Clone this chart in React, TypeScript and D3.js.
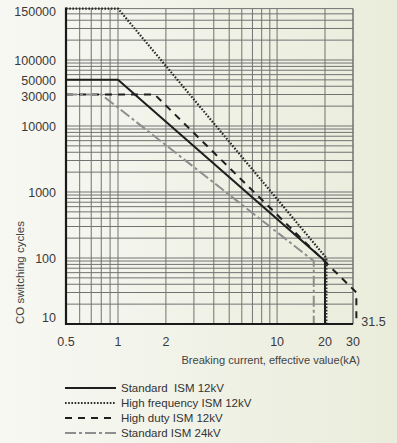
import React from "react";
import * as d3 from "d3";

// breaking current (kA) / CO cycles
const std12Current = [0.5, 1, 20, 20];
const std12Cycles = [50000, 50000, 90, 10];
const hf12Current = [0.5, 1, 20.4, 20.4];
const hf12Cycles = [150000, 150000, 100, 10];
const hd12Current = [0.5, 1.7, 31.5, 31.5];
const hd12Cycles = [30000, 30000, 30, 10];
const std24Current = [0.5, 0.8, 17, 17];
const std24Cycles = [30000, 30000, 90, 10];

const seriesNames = ["Standard  ISM 12kV", "High frequency ISM 12kV", "High duty ISM 12kV", "Standard ISM 24kV"];
const xTickValues = [0.5, 1, 2, 10, 20, 30];
const yTickValues = [10, 100, 1000, 10000, 30000, 50000, 100000, 150000];

const W = 397, H = 443;
const left = 66, right = 353, top = 8.6, bottom = 324;

// the axis is broken above 100000: 150000 sits at the top edge
const x = d3.scaleLog().domain([0.5, 1, 30]).range([left, 118, right]);
const y = d3.scaleLog().domain([10, 100000, 150000]).range([bottom, 60, top]);
const yTopGrid = d3.scaleLog().domain([1e5, 6e5]).range([y(1e5), y(1.5e5)]);

const vGrid: number[] = [0.6, 0.7, 0.8, 0.9];
for (const d of [1, 10]) for (let k = 1; k <= 9; k++) if (d * k <= 30) vGrid.push(d * k);
vGrid.push(30);

const hGrid: number[] = [];
for (const d of [10, 100, 1000, 10000]) for (let k = 1; k <= 9; k++) hGrid.push(y(d * k));
hGrid.push(y(100000));
for (const v of [2e5, 3e5, 4e5, 5e5, 6e5]) hGrid.push(yTopGrid(v));

const styles = [
  { stroke: "#1e1e1e", dash: "none", width: 2 },
  { stroke: "#2a2a2a", dash: "1.6,1.6", width: 2.2 },
  { stroke: "#1e1e1e", dash: "7,6", width: 2 },
  { stroke: "#8e8e8e", dash: "11,3,3,3", width: 2 },
];

const line = d3.line<[number, number]>().x(d => x(d[0])).y(d => y(d[1]));
const toPts = (xs: number[], ys: number[]) => xs.map((v, i) => [v, ys[i]] as [number, number]);
const series = [
  toPts(std12Current, std12Cycles),
  toPts(hf12Current, hf12Cycles),
  toPts(hd12Current, hd12Cycles),
  toPts(std24Current, std24Cycles),
];

const font = "'Liberation Sans', Arial, sans-serif";

export default function App() {
  const yOffset = (v: number) => (v === 150000 ? 3.5 : v === 10 ? -6 : v === 30000 ? 2 : 1);
  return (
    <svg width={W} height={H} style={{ position: "absolute", left: 0, top: 0 }} fontFamily={font}>
      <defs>
        <linearGradient id="bg" x1="0" x2="1" y1="0" y2="0">
          <stop offset="0" stopColor="#f7f8f3" />
          <stop offset="1" stopColor="#eaecdb" />
        </linearGradient>
      </defs>
      <rect width={W} height={H} fill="url(#bg)" />

      <g stroke="#727272" strokeWidth={1}>
        {vGrid.map((v, i) => (
          <line key={"v" + i} x1={x(v)} x2={x(v)} y1={top} y2={bottom} />
        ))}
        {hGrid.map((yy, i) => (
          <line key={"h" + i} x1={left} x2={right} y1={yy} y2={yy} />
        ))}
      </g>

      {series.map((pts, i) => (
        <path key={i} d={line(pts) || ""} fill="none" stroke={styles[i].stroke}
          strokeWidth={styles[i].width} strokeDasharray={styles[i].dash} />
      ))}

      <line x1={left} x2={left} y1={top - 1} y2={bottom + 1} stroke="#1a1a1a" strokeWidth={2.2} />
      <line x1={left - 1} x2={right} y1={bottom} y2={bottom} stroke="#1a1a1a" strokeWidth={2.2} />

      <g fontSize={12.5} fill="#3a3a3a" textAnchor="end">
        {yTickValues.map(v => (
          <text key={v} x={56} y={y(v) + yOffset(v)} dominantBaseline="central">{String(v)}</text>
        ))}
      </g>
      <g fontSize={12.5} fill="#3a3a3a" textAnchor="middle">
        {xTickValues.map(v => (
          <text key={v} x={v === 0.5 ? left : x(v)} y={346}>{String(v)}</text>
        ))}
      </g>
      <text x={x(31.5) + 5} y={326} fontSize={12.5} fill="#3a3a3a">31.5</text>

      <text transform={`translate(24,${bottom}) rotate(-90)`} fontSize={11.5} fill="#444">CO switching cycles</text>
      <text x={360} y={364} fontSize={11.1} fill="#444" textAnchor="end">Breaking current, effective value(kA)</text>

      <g fontSize={11.5} fill="#333">
        {seriesNames.map((name, i) => {
          const ly = 388 + i * 15;
          return (
            <g key={name}>
              <line x1={65} x2={116} y1={ly} y2={ly} stroke={styles[i].stroke}
                strokeWidth={styles[i].width} strokeDasharray={styles[i].dash} />
              <text x={121} y={ly} dominantBaseline="central" style={{ whiteSpace: "pre" }}>{name}</text>
            </g>
          );
        })}
      </g>
    </svg>
  );
}
